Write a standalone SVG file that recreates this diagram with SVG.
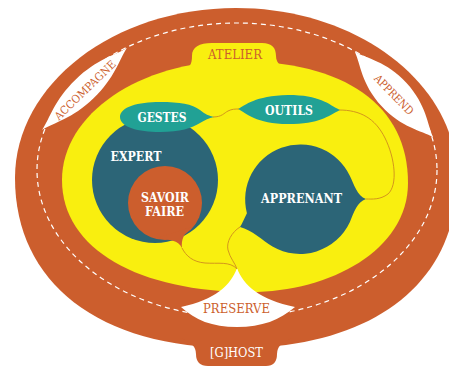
<svg xmlns="http://www.w3.org/2000/svg" width="449" height="367" viewBox="0 0 449 367">
<style>
.org{fill:#CC5E2D}
.yel{fill:#F9EF0F}
.dk{fill:#2C6577}
.tl{fill:#21A195}
.wh{fill:#FFFFFF}
.lbl{font-family:"DejaVu Serif","Liberation Serif",serif;font-size:13px;font-weight:bold;fill:#FFFFFF;text-anchor:middle}
.olbl{font-family:"DejaVu Serif","Liberation Serif",serif;font-size:13px;fill:#CC5E2D;text-anchor:middle}
.slbl{font-family:"DejaVu Serif","Liberation Serif",serif;font-size:11px;fill:#CC5E2D;text-anchor:middle}
.ln{fill:none;stroke:#D4961C;stroke-width:1}
</style>
<rect width="449" height="367" fill="#FFFFFF"/>
<g id="ghost">
<path class="org" d="M15,178 C15,84 114,8 236,8 C358,8 457,84 457,178 C457,283 373,348 236,348 C99,348 15,283 15,178 Z"/>
<path class="org" d="M180,338 Q196,343 196,354 Q196,366 208,366 L266,366 Q277,366 277,354 Q277,343 293,338 L293,330 L180,330 Z"/>
<ellipse cx="237" cy="170" rx="200" ry="147" fill="none" stroke="#FFFFFF" stroke-width="1.2" stroke-dasharray="5 4"/>
<text class="lbl" x="236.5" y="357" textLength="53" lengthAdjust="spacingAndGlyphs" style="font-weight:normal">[G]HOST</text>
</g>
<g id="accompagne">
<path class="wh" transform="translate(84.5,89) rotate(-44)" d="M-59,0 C-45,-3 -30,-13 0,-13 C30,-13 45,-3 59,0 C45,3 30,13 0,13 C-30,13 -45,3 -59,0 Z"/>
<text class="slbl" transform="translate(85,90) rotate(-44)" x="0" y="4" textLength="80" lengthAdjust="spacingAndGlyphs">ACCOMPAGNE</text>
</g>
<g id="apprend">
<path class="wh" transform="translate(394,94.5) rotate(47.5)" d="M-58,0 C-45,-4 -30,-17 0,-17 C30,-17 45,-4 58,0 C45,4 30,17 0,17 C-30,17 -45,4 -58,0 Z"/>
<text class="slbl" transform="translate(394,94.5) rotate(46)" x="0" y="4" textLength="51" lengthAdjust="spacingAndGlyphs">APPREND</text>
</g>
<g id="atelier">
<path class="yel" d="M62,180 C62,114 140,61 236,61 C345,61 408,105 408,183 C408,250 330,292 250,292 C140,292 62,250 62,180 Z"/>
<path class="yel" d="M182,70 C190,68 192,64 192,56 C192,47 199,43 212,43 L262,43 C272,43 276,48 276,56 C276,64 282,68 294,70 L294,80 L182,80 Z"/>
<text class="olbl" x="235" y="59" textLength="54" lengthAdjust="spacingAndGlyphs">ATELIER</text>
</g>
<g id="preserve">
<path class="wh" d="M237,268 C243,285 260,300 295,307 C280,320 262,327 237,327 C212,327 195,320 181,307 C215,300 231,285 237,268 Z"/>
<text class="olbl" x="236.5" y="313" textLength="67" lengthAdjust="spacingAndGlyphs">PRESERVE</text>
</g>
<g id="expert">
<circle class="dk" cx="155" cy="180" r="63"/>
<text class="lbl" x="136" y="161" textLength="51" lengthAdjust="spacingAndGlyphs">EXPERT</text>
</g>
<g id="savoir-faire">
<circle class="org" cx="165" cy="203" r="37"/>
<path class="org" d="M157,238 C170,240 178,240 182,248 C181,240 184,232 192,227 Z"/>
<text class="lbl" x="165" y="202" textLength="48" lengthAdjust="spacingAndGlyphs">SAVOIR</text>
<text class="lbl" x="164.5" y="216" textLength="39" lengthAdjust="spacingAndGlyphs">FAIRE</text>
</g>
<g id="apprenant">
<path class="dk" d="M366,199 C357,196 354,184 349.8,175.8 A55,55 0 0 0 246.9,213.2 C244,219 242,224 240,227 C252,230 262,240 272.5,246.6 A55,55 0 0 0 349.8,222.2 C354,212 357,202 366,199 Z"/>
<text class="lbl" x="301.5" y="203" textLength="81" lengthAdjust="spacingAndGlyphs">APPRENANT</text>
</g>
<g id="gestes">
<path class="tl" d="M120,117 C120,107 138,102 160,102 C180,102 192,104 200,110 C205,114 209,116 214,117 C209,118 205,120 200,123 C192,128 180,132 160,132 C138,132 120,127 120,117 Z"/>
<text class="lbl" x="162" y="122" textLength="49" lengthAdjust="spacingAndGlyphs">GESTES</text>
</g>
<g id="outils">
<path class="tl" d="M238,109 C246,105 254,96 288,95 C320,95 328,104 340,110 C328,116 320,124 288,124 C256,124 246,113 238,109 Z"/>
<text class="lbl" x="289" y="114.5" textLength="48" lengthAdjust="spacingAndGlyphs">OUTILS</text>
</g>
<g id="connectors">
<path class="ln" d="M213,117 C222,117 224,113 228,111 C232,109 235,109 239,109"/>
<path class="ln" d="M339,110 C360,110 375,118 385,138 C395,158 398,185 388,194 C380,200 372,199 366,199"/>
<path class="ln" d="M240,227 C232,232 226,242 228,250 C230,258 235,263 237,269"/>
<path class="ln" d="M182,248 C186,256 193,262 205,263 C218,264 230,261 237,269"/>
</g>
</svg>
